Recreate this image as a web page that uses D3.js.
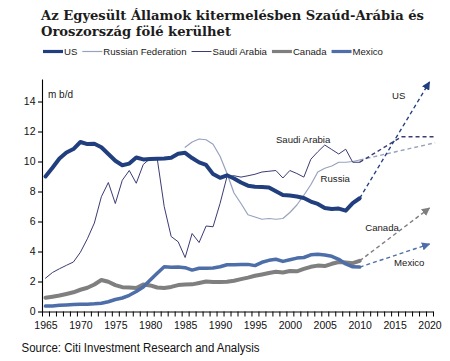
<!DOCTYPE html>
<html><head><meta charset="utf-8">
<script src="https://cdn.jsdelivr.net/npm/d3@7"></script>
<style>
html,body{margin:0;padding:0;background:#fff;}
text{font-family:"Liberation Sans",Arial,sans-serif;fill:#1a1a1a;}
</style></head>
<body><svg id="chart" width="450" height="361"></svg>
<script>
// ---------- DATA ----------
const years = d3.range(1965, 2011);
const usValues = [9.0,9.58,10.2,10.6,10.83,11.3,11.16,11.18,10.95,10.5,10.05,9.75,9.86,10.27,10.14,10.17,10.18,10.2,10.25,10.51,10.58,10.23,9.94,9.77,9.16,8.91,9.08,8.87,8.6,8.39,8.32,8.3,8.27,8.01,7.76,7.73,7.67,7.57,7.33,7.17,6.9,6.83,6.86,6.72,7.22,7.55];
const saudiValues = [2.22,2.6,2.85,3.08,3.3,3.95,4.85,5.9,7.65,8.6,7.2,8.75,9.4,8.55,9.8,10.2,10.2,7.0,5.0,4.65,3.6,5.2,4.6,5.7,5.65,7.2,9.0,9.05,8.96,9.05,9.15,9.3,9.35,9.4,8.9,9.4,9.2,8.96,10.15,10.65,11.1,10.8,10.5,10.82,9.95,9.95];
const russiaYears = d3.range(1985, 2011);
const russiaValues = [10.95,11.3,11.5,11.45,11.15,10.35,9.2,7.9,7.2,6.45,6.3,6.15,6.2,6.15,6.2,6.6,7.1,7.75,8.45,9.3,9.55,9.7,9.95,9.95,10.0,10.1];
const canadaValues = [0.92,0.99,1.07,1.17,1.28,1.45,1.58,1.8,2.1,1.98,1.76,1.62,1.6,1.57,1.8,1.74,1.6,1.57,1.64,1.76,1.8,1.81,1.9,2.0,1.96,1.96,1.98,2.05,2.16,2.26,2.38,2.47,2.57,2.65,2.6,2.7,2.68,2.84,2.98,3.06,3.03,3.18,3.3,3.26,3.22,3.38];
const mexicoValues = [0.36,0.37,0.41,0.44,0.46,0.49,0.49,0.51,0.55,0.65,0.8,0.9,1.08,1.33,1.63,2.1,2.55,2.98,2.95,2.96,2.92,2.76,2.88,2.88,2.9,2.98,3.12,3.12,3.13,3.14,3.06,3.28,3.41,3.48,3.34,3.45,3.56,3.6,3.78,3.82,3.77,3.68,3.48,3.17,2.98,2.96];

// projections (years, values)
const usProjYears = [2010, 2020];      const usProjValues = [7.55, 15.3];
const saudiProjYears = [2010, 2016, 2020.8]; const saudiProjValues = [9.95, 11.65, 11.65];
const russiaProjYears = [2010, 2020.8]; const russiaProjValues = [10.1, 11.25];
const canadaProjYears = [2010, 2020];  const canadaProjValues = [3.38, 6.9];
const mexicoProjYears = [2010, 2020];  const mexicoProjValues = [2.96, 4.5];

const xTickLabels = d3.range(1965, 2021, 5);
const yTickLabels = [0, 2, 4, 6, 8, 10, 12, 14];
const legendNames = ["US", "Russian Federation", "Saudi Arabia", "Canada", "Mexico"];
const titleLines = ["Az Egyesült Államok kitermelésben Szaúd-Arábia és", "Oroszország fölé kerülhet"];
const annotationNames = ["US", "Saudi Arabia", "Russia", "Canada", "Mexico"];
const annotationYears = [2015.6, 2001.9, 2006.5, 2013.2, 2017.1];
const annotationValues = [14.4, 11.5, 8.85, 5.62, 3.3];

// ---------- STYLE ----------
const colors = {US:"#213f7e", Russia:"#97a2bd", Saudi:"#3b3b74", Canada:"#7f7f7f", Mexico:"#4d6ea8"};
const widths = {US:4, Russia:1.2, Saudi:1, Canada:4, Mexico:3.5};

const svg = d3.select("#chart");
const x = d3.scaleLinear().domain([1964.5, 2020.5]).range([42, 433]);
const y = d3.scaleLinear().domain([0, 15.5]).range([311.5, 79]);

// Title
svg.selectAll("text.title").data(titleLines).join("text")
  .attr("class","title")
  .attr("x", 41).attr("y", (d,i) => 20 + i*15.5)
  .attr("textLength", (d,i) => i===0 ? 383 : 190)
  .attr("lengthAdjust","spacingAndGlyphs")
  .style("font-family","'DejaVu Serif',serif").style("font-weight","bold")
  .style("font-size","13.5px").style("fill","#1c1c1c")
  .text(d => d);

// Legend
const legendKeys = ["US","Russia","Saudi","Canada","Mexico"];
let lx = 43;
legendNames.forEach((name, i) => {
  const k = legendKeys[i];
  svg.append("line").attr("x1", lx).attr("x2", lx + 20).attr("y1", 51.5).attr("y2", 51.5)
    .attr("stroke", colors[k]).attr("stroke-width", Math.min(widths[k], 3.2));
  const t = svg.append("text").attr("x", lx + 21).attr("y", 55).style("font-size","9.6px").text(name);
  lx += 21 + t.node().getComputedTextLength() + 5;
});

// Axes
const gy = svg.append("g").attr("transform","translate(42,0)")
  .call(d3.axisLeft(y).tickValues(yTickLabels).tickSize(4).tickSizeOuter(0).tickPadding(2.5));
gy.selectAll("text").style("font-size","10.5px").style("fill","#111");
gy.selectAll("line,path").attr("stroke","#000").attr("stroke-width",1.1);

const gx = svg.append("g").attr("transform",`translate(0,${y(0)})`)
  .call(d3.axisBottom(x).tickValues(d3.range(1964.5, 2021, 1)).tickSize(5).tickSizeOuter(0).tickFormat(""));
gx.selectAll("line,path").attr("stroke","#000").attr("stroke-width",1);
const gxl = svg.append("g").attr("transform",`translate(0,${y(0)})`)
  .call(d3.axisBottom(x).tickValues(xTickLabels).tickSize(0).tickPadding(10).tickFormat(d3.format("d")));
gxl.select("path").remove();
gxl.selectAll("text").style("font-size","10.5px").style("fill","#111");

svg.append("text").attr("x", x(1964.5) + 6).attr("y", y(14.25)).style("font-size","10px").text("m b/d");

// Lines
const line = d3.line().x(d => x(d[0])).y(d => y(d[1])).curve(d3.curveLinear);
function drawSeries(xs, vs, k) {
  svg.append("path").datum(xs.map((yr,i) => [yr, vs[i]]))
    .attr("d", line).attr("fill","none").attr("stroke", colors[k])
    .attr("stroke-width", widths[k]).attr("stroke-linejoin","round").attr("stroke-linecap","round");
}
// markers
const defs = svg.append("defs");
["US","Canada","Mexico"].forEach(k => {
  defs.append("marker").attr("id","arr"+k).attr("viewBox","0 0 10 10").attr("refX",9).attr("refY",5)
    .attr("markerWidth",6).attr("markerHeight",6).attr("markerUnits","strokeWidth").attr("orient","auto")
    .append("path").attr("d","M0,0 L10,5 L0,10 z").attr("fill", colors[k]);
});
function drawProj(xs, vs, k, arrow) {
  const p = svg.append("path").datum(xs.map((yr,i) => [yr, vs[i]]))
    .attr("d", line).attr("fill","none").attr("stroke", colors[k])
    .attr("stroke-width", 1.4).attr("stroke-dasharray","4,3");
  if (arrow) p.attr("marker-end", `url(#arr${k})`);
}

drawSeries(years, canadaValues, "Canada");
drawSeries(years, mexicoValues, "Mexico");
drawSeries(russiaYears, russiaValues, "Russia");
drawSeries(years, saudiValues, "Saudi");
drawSeries(years, usValues, "US");

drawProj(russiaProjYears, russiaProjValues, "Russia", false);
drawProj(saudiProjYears, saudiProjValues, "Saudi", false);
drawProj(canadaProjYears, canadaProjValues, "Canada", true);
drawProj(mexicoProjYears, mexicoProjValues, "Mexico", true);
drawProj(usProjYears, usProjValues, "US", true);

// Annotations
svg.selectAll("text.ann").data(annotationNames).join("text")
  .attr("class","ann").attr("text-anchor","middle")
  .attr("x", (d,i) => x(annotationYears[i])).attr("y", (d,i) => y(annotationValues[i]) + 3.5)
  .style("font-size","9.6px").text(d => d);

// Source
svg.append("text").attr("x", 21.5).attr("y", 352)
  .attr("textLength", 238).attr("lengthAdjust","spacingAndGlyphs")
  .style("font-size","12.5px").style("fill","#111")
  .text("Source: Citi Investment Research and Analysis");
</script></body></html>
